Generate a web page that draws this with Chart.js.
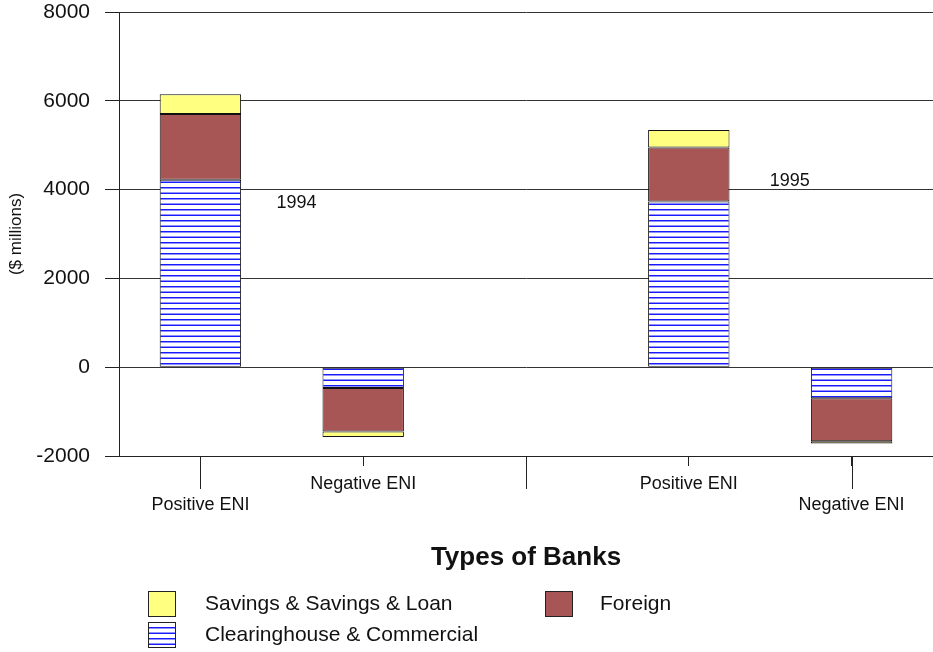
<!DOCTYPE html>
<html>
<head>
<meta charset="utf-8">
<script src="https://cdn.jsdelivr.net/npm/chart.js@4.4.0/dist/chart.umd.min.js"></script>
<style>
html, body { margin: 0; padding: 0; background: #fff; }
#wrap { width: 933px; height: 652px; }
</style>
</head>
<body>
<div id="wrap"><canvas id="myChart"></canvas></div>
<script>
var categories = ['Positive ENI', 'Negative ENI', '', 'Positive ENI', 'Negative ENI'];
var clearinghouse = [4220, -470, null, 3730, -700];
var foreign = [1480, -980, null, 1220, -970];
var savings = [450, -120, null, 390, -50];
var yTicks = [-2000, 0, 2000, 4000, 6000, 8000];
var yearLabels = ['1994', '1995'];
var yearAt = [0.59, 3.62];
var yearValue = [3690, 4190];

var font = '"Liberation Sans", Arial, sans-serif';

function stripes() {
    var c = document.createElement('canvas');
    c.width = 8; c.height = 11;
    var g = c.getContext('2d');
    g.fillStyle = '#fff'; g.fillRect(0, 0, 8, 11);
    g.fillStyle = '#1a1aff'; g.fillRect(0, 0, 8, 1); g.fillRect(0, 6, 8, 1);
    g.fillStyle = '#9090ff'; g.fillRect(0, 1, 8, 1); g.fillRect(0, 5, 8, 1);
    return document.createElement('canvas').getContext('2d').createPattern(c, 'repeat');
}
var striped = stripes();

var extras = {
    id: 'extras',
    afterDraw: function (chart) {
        var ctx = chart.ctx, x = chart.scales.x, y = chart.scales.y, area = chart.chartArea;
        ctx.save();
        // long ticks under every other category
        ctx.strokeStyle = '#222';
        ctx.lineWidth = 1;
        categories.forEach(function (c, i) {
            if (i % 2) return;
            var px = Math.round(x.getPixelForValue(i)) + 0.5;
            ctx.beginPath();
            ctx.moveTo(px, area.bottom);
            ctx.lineTo(px, area.bottom + 33);
            ctx.stroke();
        });
        // year notes
        ctx.fillStyle = '#111';
        ctx.font = '18px ' + font;
        ctx.textAlign = 'center';
        ctx.textBaseline = 'middle';
        yearLabels.forEach(function (t, i) {
            ctx.fillText(t, x.getPixelForValue(yearAt[i]), y.getPixelForValue(yearValue[i]));
        });
        // axis title
        ctx.font = 'bold 26px ' + font;
        ctx.fillText('Types of Banks', (area.left + area.right) / 2, 558);
        // legend
        var items = [
            { ds: 2, bx: 148, by: 591, tx: 205 },
            { ds: 1, bx: 545, by: 591, tx: 600 },
            { ds: 0, bx: 148, by: 622, tx: 205 }
        ];
        ctx.font = '21px ' + font;
        ctx.textAlign = 'left';
        items.forEach(function (it) {
            var d = chart.data.datasets[it.ds];
            ctx.fillStyle = d.backgroundColor;
            ctx.fillRect(it.bx, it.by, 28, 26);
            ctx.strokeStyle = '#222';
            ctx.strokeRect(it.bx + 0.5, it.by + 0.5, 27, 25);
            ctx.fillStyle = '#111';
            ctx.fillText(d.label, it.tx, it.by + 13);
        });
        ctx.restore();
    }
};

var myChart = new Chart('myChart', {
    type: 'bar',
    data: {
        labels: categories,
        datasets: [{
            label: 'Clearinghouse & Commercial',
            data: clearinghouse,
            backgroundColor: striped,
            borderColor: '#111',
            borderWidth: 1,
            borderSkipped: false
        }, {
            label: 'Foreign',
            data: foreign,
            backgroundColor: '#a85555',
            borderColor: '#111',
            borderWidth: 1,
            borderSkipped: false
        }, {
            label: 'Savings & Savings & Loan',
            data: savings,
            backgroundColor: '#ffff80',
            borderColor: '#111',
            borderWidth: 1,
            borderSkipped: false
        }]
    },
    options: {
        responsive: true,
        maintainAspectRatio: false,
        animation: false,
        layout: { padding: { top: 12, left: 0, right: 0, bottom: 0 } },
        datasets: { bar: { categoryPercentage: 0.5, barPercentage: 1 } },
        plugins: {
            legend: { display: false },
            tooltip: { enabled: false }
        },
        scales: {
            x: {
                stacked: true,
                afterFit: function (s) {
                    s.height = 196;
                    s.paddingLeft = 0; s.paddingRight = 0;
                },
                grid: {
                    offset: false,
                    drawOnChartArea: false,
                    tickLength: 10,
                    tickColor: '#222'
                },
                border: { display: true, color: '#222' },
                ticks: {
                    maxRotation: 0,
                    autoSkip: false,
                    padding: 7,
                    color: '#111',
                    font: { family: font, size: 18 },
                    callback: function (v, i) {
                        var t = categories[i];
                        return i % 2 ? t : ['', t];
                    }
                }
            },
            y: {
                stacked: true,
                min: -2000,
                max: 8000,
                afterBuildTicks: function (s) {
                    s.ticks = yTicks.map(function (v) { return { value: v }; });
                },
                afterFit: function (s) {
                    s.width = 119;
                    s.paddingTop = 0; s.paddingBottom = 0;
                },
                grid: { color: '#333', tickLength: 14, tickColor: '#222' },
                border: { display: true, color: '#222' },
                ticks: {
                    padding: 15,
                    color: '#111',
                    font: { family: font, size: 21 },
                    callback: function (v) { return String(v); }
                },
                title: {
                    display: true,
                    text: '($ millions)',
                    color: '#111',
                    padding: { top: 6, bottom: 0 },
                    font: { family: font, size: 17 }
                }
            }
        }
    },
    plugins: [extras]
});
</script>
</body>
</html>
